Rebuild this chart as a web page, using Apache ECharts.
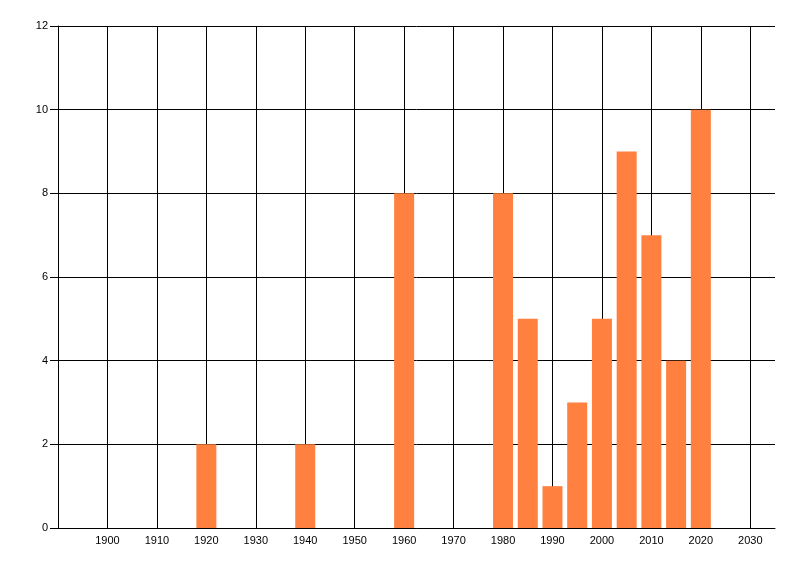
<!DOCTYPE html>
<html>
<head>
<meta charset="utf-8">
<script src="https://cdn.jsdelivr.net/npm/echarts@6/dist/echarts.min.js"></script>
<style>
  html, body { margin: 0; padding: 0; background: #fff; }
  #chart { width: 800px; height: 576px; }
</style>
</head>
<body>
<div id="chart"></div>
<script>
// year of each bar and its count
const years = [1920, 1940, 1960, 1980, 1985, 1990, 1995, 2000, 2005, 2010, 2015, 2020];
const counts = [2, 2, 8, 8, 5, 1, 3, 5, 9, 7, 4, 10];

const xMin = 1890, xMax = 2035, xStep = 10;
const yMin = 0, yMax = 12, yStep = 2;

const points = years.map((y, i) => [y, counts[i]]);

const chart = echarts.init(document.getElementById('chart'));
chart.setOption({
  animation: false,
  backgroundColor: '#ffffff',
  grid: { left: 58, right: 25, top: 26, bottom: 48, containLabel: false },
  xAxis: {
    type: 'value',
    min: xMin,
    max: xMax,
    interval: xStep,
    axisLine: { show: true, lineStyle: { color: '#000', width: 1 } },
    axisTick: { show: false },
    axisLabel: {
      margin: 7,
      color: '#000',
      fontFamily: 'Liberation Sans, Arial, sans-serif',
      fontSize: 11,
      formatter: v => (v <= xMin || v >= xMax) ? '' : String(v)
    },
    splitLine: { show: true, showMaxLine: false, lineStyle: { color: '#000', width: 1 } }
  },
  yAxis: {
    type: 'value',
    min: yMin,
    max: yMax,
    interval: yStep,
    axisLine: { show: true, lineStyle: { color: '#000', width: 1 } },
    axisTick: { show: true, length: 8, lineStyle: { color: '#000', width: 1 } },
    axisLabel: {
      margin: 10,
      color: '#000',
      fontFamily: 'Liberation Sans, Arial, sans-serif',
      fontSize: 11
    },
    splitLine: { show: true, lineStyle: { color: '#000', width: 1 } }
  },
  series: [{
    type: 'bar',
    data: points,
    barWidth: 20,
    itemStyle: { color: '#FF803F' }
  }]
});
</script>
</body>
</html>
